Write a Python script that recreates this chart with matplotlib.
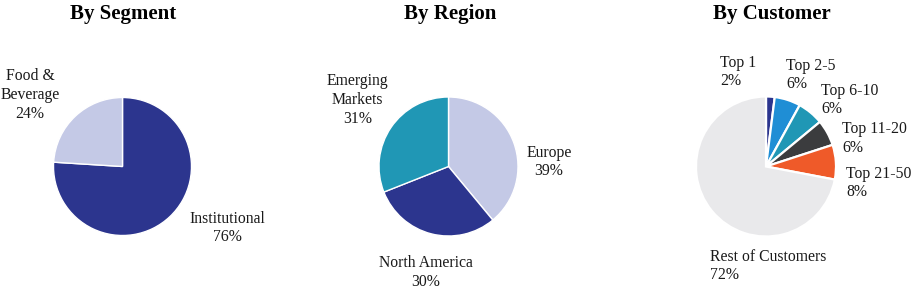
import matplotlib
matplotlib.use("Agg")
import matplotlib.pyplot as plt

# ---- data ----
seg_labels = ["Institutional", "Food &\nBeverage"]
seg_values = [76, 24]
seg_colors = ["#2C358E", "#C4C9E6"]

region_labels = ["Europe", "North America", "Emerging\nMarkets"]
region_values = [39, 30, 31]
region_colors = ["#C4C9E6", "#2C358E", "#2097B5"]

cust_labels = ["Top 1", "Top 2-5", "Top 6-10", "Top 11-20", "Top 21-50", "Rest of Customers"]
cust_values = [2, 6, 6, 6, 8, 72]
cust_colors = ["#2C358E", "#1F8ED5", "#2097B5", "#3B3C3E", "#EF5A29", "#E9E9EB"]

titles = ["By Segment", "By Region", "By Customer"]

W, H = 912, 290
plt.rcParams['font.family'] = ['Liberation Serif', 'DejaVu Serif']
fig = plt.figure(figsize=(W / 100, H / 100), dpi=100)


def add_pie(cx, cy, r, values, colors, lw):
    ax = fig.add_axes([(cx - r) / W, 1 - (cy + r) / H, 2 * r / W, 2 * r / H])
    ax.pie(values, colors=colors, startangle=90, counterclock=False,
           wedgeprops=dict(edgecolor="white", linewidth=lw))
    ax.set_xlim(-1, 1)
    ax.set_ylim(-1, 1)
    ax.set_aspect("equal")
    ax.axis("off")
    return ax


def label(x, y, text, ha="center"):
    fig.text(x / W, 1 - y / H, text, ha=ha, va="center", fontsize=11.3,
             linespacing=1.22, color="#1a1a1a", multialignment=ha)


add_pie(122.5, 166.5, 69, seg_values, seg_colors, 1.0)
add_pie(448.5, 166.5, 69.5, region_values, region_colors, 1.0)
add_pie(766, 166.5, 70, cust_values, cust_colors, 1.6)

# titles
for x, t in zip([123, 450, 772], titles):
    fig.text(x / W, 1 - 14 / H, t, ha="center", va="center", fontsize=15,
             fontweight="bold", color="black")

# segment labels
label(30, 95, f"{seg_labels[1]}\n{seg_values[1]}%")
label(227, 228, f"{seg_labels[0]}\n{seg_values[0]}%")

# region labels
label(357.5, 100, f"{region_labels[2]}\n{region_values[2]}%")
label(549, 162, f"{region_labels[0]}\n{region_values[0]}%")
label(426, 272.5, f"{region_labels[1]}\n{region_values[1]}%")

# customer labels
cust_pos = [(720, 72), (786, 75), (821, 100), (842, 138.5), (846, 183), (710, 266)]
for (x, y), lab, v in zip(cust_pos, cust_labels, cust_values):
    label(x, y, f"{lab}\n{v}%", ha="left")

fig.savefig("out.png", dpi=100, facecolor="white")
